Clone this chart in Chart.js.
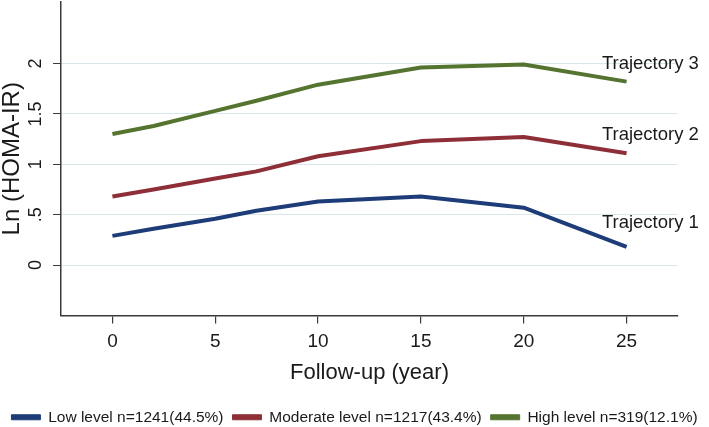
<!DOCTYPE html>
<html>
<head>
<meta charset="utf-8">
<script src="https://cdn.jsdelivr.net/npm/chart.js@4"></script>
<style>
  html, body { margin: 0; padding: 0; background: #fff; }
</style>
</head>
<body>
<canvas id="homa-chart" width="709" height="427"></canvas>
<script>
// follow-up years and Ln(HOMA-IR) per trajectory group
const years = [0, 2, 5, 7, 10, 15, 20, 25];
const lowLevel = [0.29, 0.36, 0.46, 0.54, 0.63, 0.68, 0.57, 0.18];
const moderateLevel = [0.68, 0.75, 0.86, 0.93, 1.08, 1.23, 1.27, 1.11];
const highLevel = [1.30, 1.38, 1.53, 1.63, 1.79, 1.96, 1.99, 1.82];

const seriesNames = ['Low level n=1241(44.5%)', 'Moderate level n=1217(43.4%)', 'High level n=319(12.1%)'];
const trajectoryNames = ['Trajectory 1', 'Trajectory 2', 'Trajectory 3'];

const xTicks = [0, 5, 10, 15, 20, 25];
const yTicks = [0, 0.5, 1, 1.5, 2];
const yTickLabels = ['0', '.5', '1', '1.5', '2'];

const FONT = '"Liberation Sans", Arial, Helvetica, sans-serif';
const TEXT = '#1a1a1a';
const AXIS = '#3a3a3a';
const colors = ['#1d3c78', '#8e2f38', '#547430'];

function toPoints(vals) {
    return years.map((x, i) => ({ x: x, y: vals[i] }));
}

// rotated y tick labels and the "Trajectory n" tags at the line ends
const extraText = {
    id: 'extraText',
    afterDraw(chart) {
        const { ctx } = chart;
        const x = chart.scales.x;
        const y = chart.scales.y;
        ctx.save();
        ctx.fillStyle = TEXT;
        ctx.font = '18px ' + FONT;
        ctx.textAlign = 'center';
        ctx.textBaseline = 'middle';
        yTicks.forEach((v, i) => {
            ctx.save();
            ctx.translate(36, y.getPixelForValue(v));
            ctx.rotate(-Math.PI / 2);
            ctx.fillText(yTickLabels[i], 0, 0);
            ctx.restore();
        });

        // anchors in data units (x year, y value)
        const tagPos = [[23.8, 0.42], [23.8, 1.29], [23.8, 2.0]];
        ctx.font = '18.5px ' + FONT;
        ctx.textAlign = 'left';
        trajectoryNames.forEach((name, i) => {
            ctx.fillText(name, x.getPixelForValue(tagPos[i][0]), y.getPixelForValue(tagPos[i][1]));
        });
        ctx.restore();
    }
};

const ctx = document.getElementById('homa-chart').getContext('2d');
new Chart(ctx, {
    type: 'line',
    data: {
        datasets: [lowLevel, moderateLevel, highLevel].map((vals, i) => ({
            label: seriesNames[i],
            data: toPoints(vals),
            borderColor: colors[i],
            backgroundColor: colors[i],
            borderWidth: 4,
            borderJoinStyle: 'round',
            pointRadius: 0,
            tension: 0,
            yAxisID: 'y'
        }))
    },
    options: {
        responsive: false,
        animation: false,
        layout: { padding: { top: 2, bottom: -8, left: 0, right: 0 } },
        scales: {
            x: {
                type: 'linear',
                min: -2.5,
                max: 27.5,
                afterBuildTicks: s => { s.ticks = xTicks.map(v => ({ value: v })); },
                afterFit: s => { s.height = 85; },
                grid: { drawOnChartArea: false, drawTicks: true, tickLength: 8, color: AXIS, lineWidth: 1.2 },
                border: { display: true, color: AXIS, width: 1.5 },
                ticks: { font: { size: 19, family: FONT }, color: TEXT, padding: 7, autoSkip: false, maxRotation: 0 },
                title: {
                    display: true,
                    text: 'Follow-up (year)',
                    font: { size: 22, family: FONT },
                    color: TEXT,
                    padding: { top: 0, bottom: 14 }
                }
            },
            y: {
                type: 'linear',
                position: 'left',
                min: -0.5,
                max: 2.61,
                afterBuildTicks: s => { s.ticks = yTicks.map(v => ({ value: v })); },
                afterFit: s => { s.width = 61; },
                grid: { color: '#d8e8ea', lineWidth: 1, tickColor: AXIS, tickLength: 8, drawTicks: true },
                border: { display: true, color: AXIS, width: 1.5 },
                ticks: { display: false },
                title: {
                    display: true,
                    text: 'Ln (HOMA-IR)',
                    font: { size: 24, family: FONT, lineHeight: 1 },
                    color: TEXT,
                    padding: 0
                }
            },
            // empty right margin, as in the original plot region
            yR: {
                position: 'right',
                display: true,
                grid: { display: false },
                border: { display: false },
                ticks: { display: false },
                afterFit: s => { s.width = 31; }
            }
        },
        plugins: {
            legend: {
                position: 'bottom',
                labels: {
                    boxWidth: 29,
                    boxHeight: 5,
                    padding: 9,
                    color: TEXT,
                    font: { size: 15.5, family: FONT },
                    generateLabels: chart => Chart.defaults.plugins.legend.labels.generateLabels(chart)
                        .map(l => Object.assign(l, { lineWidth: 1 }))
                }
            },
            tooltip: { enabled: false }
        }
    },
    plugins: [extraText]
});
</script>
</body>
</html>
